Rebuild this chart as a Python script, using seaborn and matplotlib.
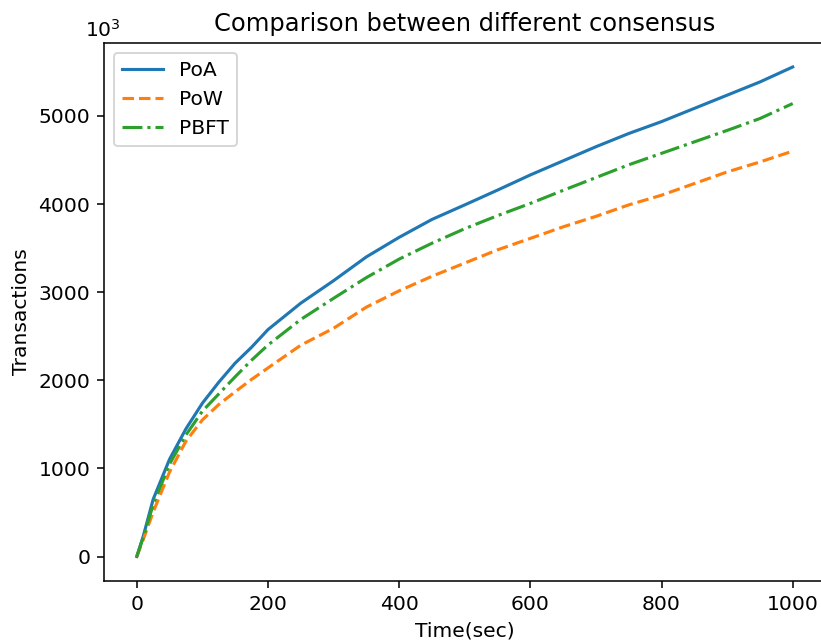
import numpy as np
import pandas as pd
import matplotlib
matplotlib.use("Agg")
import matplotlib.pyplot as plt
import seaborn as sns

# values
time_sec = [0, 10, 25, 50, 75, 100, 125, 150, 175, 200, 250, 300, 350, 400, 450,
            500, 550, 600, 650, 700, 750, 800, 850, 900, 950, 1000]
poa = [0, 235, 650, 1105, 1450, 1740, 1978, 2195, 2375, 2575, 2875, 3130, 3400, 3622, 3825,
       3990, 4158, 4330, 4490, 4650, 4800, 4935, 5085, 5235, 5385, 5555]
pow_ = [0, 195, 505, 960, 1310, 1550, 1725, 1870, 2010, 2140, 2398, 2590, 2830, 3015, 3180,
        3330, 3480, 3610, 3741, 3860, 3990, 4100, 4232, 4364, 4477, 4600]
pbft = [0, 220, 590, 1050, 1380, 1650, 1845, 2040, 2228, 2400, 2690, 2930, 3165, 3375, 3555,
        3720, 3868, 4007, 4155, 4300, 4445, 4575, 4705, 4835, 4970, 5140]

labels = ['PoA', 'PoW', 'PBFT']
colors = ['#1f77b4', '#ff7f0e', '#2ca02c']
styles = ['-', '--', '-.']

df = pd.DataFrame({'time': time_sec, 'PoA': poa, 'PoW': pow_, 'PBFT': pbft})

plt.rcParams['font.family'] = ['DejaVu Sans']
fig = plt.figure(figsize=(822 / 140, 642 / 140), dpi=140)
ax = fig.add_axes([104 / 822, 1 - 581 / 642, (825.5 - 104) / 822, (581 - 42.5) / 642])

for name, c, ls in zip(labels, colors, styles):
    sns.lineplot(data=df, x='time', y=name, color=c, linestyle=ls, linewidth=1.6,
                 label=name, errorbar=None, ax=ax)

# the reference image is cut just before the right spine
ax.spines['right'].set_visible(False)

ax.set_xticks([0, 200, 400, 600, 800, 1000])
ax.set_xlabel('Time(sec)', fontsize=10.4)
ax.set_ylabel('Transactions', fontsize=10.4)
ax.set_title('Comparison between different consensus', fontsize=12.4)
ax.tick_params(labelsize=10.4)
ax.text(-0.002, 1.003, r'$10^3$', transform=ax.transAxes, ha='center', va='bottom', fontsize=10.4)
ax.legend(loc='upper left', fontsize=10.4)

fig.savefig('out.png', dpi=140)
